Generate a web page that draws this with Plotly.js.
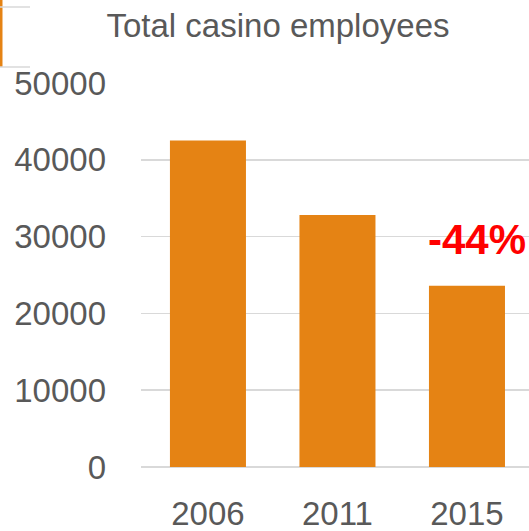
<!DOCTYPE html>
<html>
<head>
<meta charset="utf-8">
<script src="https://cdn.plot.ly/plotly-3.0.1.min.js"></script>
<style>html,body{margin:0;padding:0;background:#fff;}#chart{width:529px;height:531px;}</style>
</head>
<body>
<div id="chart"></div>
<script>
const years = ['2006', '2011', '2015'];
const employees = [42500, 32800, 23600];
const changeLabel = '-44%';
const yTicks = [0, 10000, 20000, 30000, 40000, 50000];

const barColor = '#E58314';
const textColor = '#595959';
const gridColor = '#D9D9D9';
const fontFam = '"Liberation Sans", Arial, sans-serif';

const trace = {
  type: 'bar',
  x: years,
  y: employees,
  marker: {color: barColor},
  width: 0.587,
  hoverinfo: 'skip'
};

const layout = {
  width: 529,
  height: 531,
  margin: {l: 141, r: 0, t: 83, b: 64},
  paper_bgcolor: '#fff',
  plot_bgcolor: '#fff',
  showlegend: false,
  font: {family: fontFam, color: textColor, size: 33},
  title: {
    text: 'Total casino employees',
    x: 278 / 529, xanchor: 'center', xref: 'container',
    y: 1 - 25 / 531, yanchor: 'middle', yref: 'container',
    font: {family: fontFam, size: 33, color: textColor}
  },
  xaxis: {
    type: 'category',
    range: [-0.517, 2.479],
    showgrid: false,
    zeroline: false,
    showline: false,
    ticks: '',
    ticklabelstandoff: 24,
    tickfont: {family: fontFam, size: 33, color: textColor}
  },
  yaxis: {
    range: [0, 50000],
    tickvals: yTicks,
    ticktext: yTicks.map(String),
    showgrid: true,
    gridcolor: gridColor,
    gridwidth: 1.5,
    zeroline: true,
    zerolinecolor: gridColor,
    zerolinewidth: 1.5,
    showline: false,
    ticks: '',
    ticklabelstandoff: 34,
    tickfont: {family: fontFam, size: 33, color: textColor}
  },
  annotations: [{
    x: 2.08, y: 29600, xref: 'x', yref: 'y',
    text: '<b>' + changeLabel + '</b>',
    showarrow: false,
    xanchor: 'center', yanchor: 'middle',
    font: {family: fontFam, size: 42, color: '#FF0000'}
  }],
  shapes: [
    {type: 'line', xref: 'paper', yref: 'paper',
     x0: (1 - 141) / 388, x1: (1 - 141) / 388,
     y0: (467 - 0) / 384, y1: (467 - 67) / 384,
     line: {color: barColor, width: 3}},
    {type: 'line', xref: 'paper', yref: 'paper',
     x0: (0 - 141) / 388, x1: (30 - 141) / 388,
     y0: (467 - 7) / 384, y1: (467 - 7) / 384,
     line: {color: gridColor, width: 1.5}},
    {type: 'line', xref: 'paper', yref: 'paper',
     x0: (0 - 141) / 388, x1: (30 - 141) / 388,
     y0: (467 - 67) / 384, y1: (467 - 67) / 384,
     line: {color: gridColor, width: 1.5}}
  ]
};

Plotly.newPlot('chart', [trace], layout, {displayModeBar: false, staticPlot: true});
</script>
</body>
</html>
